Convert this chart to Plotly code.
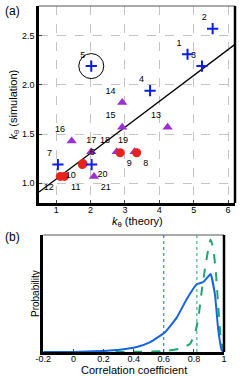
import plotly.graph_objects as go

# ---- panel (a) data ----
blue_ids = ["1", "2", "3", "4", "5", "7", "20"]
blue_x = [4.82, 5.55, 5.24, 3.73, 2.02, 1.05, 2.03]
blue_y = [2.31, 2.57, 2.19, 1.94, 2.19, 1.19, 1.19]
blue_pos = ["top left", "top left", "top left", "top left", "top left", "top left", "bottom right"]

red_ids = ["6", "8", "9", "10", "11", "12"]
red_x = [1.78, 3.34, 2.86, 1.76, 1.24, 1.12]
red_y = [1.20, 1.31, 1.31, 1.19, 1.07, 1.07]
red_pos = ["top right", "bottom right", "bottom right", "bottom left", "bottom right", "bottom left"]

pur_ids = ["13", "14", "15", "16", "17", "18", "19", "21"]
pur_x = [4.24, 2.92, 2.92, 1.45, 2.02, 2.76, 3.28, 2.10]
pur_y = [1.57, 1.82, 1.57, 1.43, 1.32, 1.32, 1.32, 1.07]
pur_pos = ["top left", "top left", "top left", "top left", "top center", "top left", "top left", "bottom right"]

fit_slope = 0.263
fit_intercept = 0.78
xa_range = [0.5, 6.2]
ya_range = [0.8, 2.8]
xa_ticks = [1, 2, 3, 4, 5, 6]
ya_ticks = [1.0, 1.5, 2.0, 2.5]
ya_ticktext = ["1.0", "1.5", "2.0", "2.5"]

# ---- panel (b) data ----
blue_cc = [-0.2, 0.0, 0.18, 0.31, 0.42, 0.51, 0.608, 0.686, 0.752, 0.819, 0.862, 0.896, 0.911, 0.94, 0.962, 0.985, 1.0]
blue_p = [0.0, 0.0, 0.009, 0.02, 0.043, 0.086, 0.173, 0.30, 0.46, 0.59, 0.61, 0.66, 0.68, 0.50, 0.19, 0.015, 0.0]
green_cc = [-0.2, 0.35, 0.62, 0.708, 0.774, 0.807, 0.83, 0.852, 0.874, 0.896, 0.911, 0.929, 0.947, 0.962, 0.98, 1.0]
green_p = [0.0, 0.0, 0.01, 0.03, 0.07, 0.16, 0.30, 0.53, 0.73, 0.90, 0.98, 0.90, 0.68, 0.39, 0.10, 0.0]
blue_vline = 0.6
green_vline = 0.82
xb_ticks = [-0.2, 0, 0.2, 0.4, 0.6, 0.8, 1]
xb_ticktext = ["-0.2", "0", "0.2", "0.4", "0.6", "0.8", "1"]

BLUE = "#0a1ee6"
RED = "#e8231f"
PURPLE = "#9b2fd0"
CBLUE = "#1565e0"
CGREEN = "#1aa870"
FONT = "Liberation Sans"

fig = go.Figure()

fx = xa_range
fy = [fit_slope * v + fit_intercept for v in fx]
fig.add_trace(go.Scatter(x=fx, y=fy, mode="lines", line=dict(color="black", width=1.3),
                         xaxis="x", yaxis="y", showlegend=False, hoverinfo="skip"))

fig.add_trace(go.Scatter(x=pur_x, y=pur_y, mode="markers+text", text=pur_ids, textposition=pur_pos,
                         marker=dict(symbol="triangle-up", size=9, color=PURPLE),
                         textfont=dict(size=9, color="black", family=FONT),
                         xaxis="x", yaxis="y", showlegend=False))
fig.add_trace(go.Scatter(x=red_x, y=red_y, mode="markers+text", text=red_ids, textposition=red_pos,
                         marker=dict(symbol="circle", size=9, color=RED),
                         textfont=dict(size=9, color="black", family=FONT),
                         xaxis="x", yaxis="y", showlegend=False))
fig.add_trace(go.Scatter(x=blue_x, y=blue_y, mode="markers+text", text=blue_ids, textposition=blue_pos,
                         marker=dict(symbol="cross-thin", size=8, line=dict(color=BLUE, width=2)),
                         textfont=dict(size=9, color="black", family=FONT),
                         xaxis="x", yaxis="y", showlegend=False))

fig.add_trace(go.Scatter(x=green_cc, y=green_p, mode="lines", line=dict(color=CGREEN, width=2, dash="dash", shape="spline", smoothing=0.4),
                         xaxis="x2", yaxis="y2", showlegend=False))
fig.add_trace(go.Scatter(x=blue_cc, y=blue_p, mode="lines", line=dict(color=CBLUE, width=2, shape="spline", smoothing=0.4),
                         xaxis="x2", yaxis="y2", showlegend=False))

W, H = 249, 376
xa_dom = [39 / W, 235 / W]
ya_dom = [1 - 203 / H, 1 - 6 / H]
xb_dom = [43.3 / W, 224 / W]
yb_dom = [1 - 352 / H, 1 - 235 / H]

tickfont = dict(size=9, color="black", family=FONT)

shapes = []
i5 = blue_ids.index("5")
rx = 12.5 / (196 / (xa_range[1] - xa_range[0]))
ry = 12.5 / (197 / (ya_range[1] - ya_range[0]))
shapes.append(dict(type="circle", xref="x", yref="y",
                   x0=blue_x[i5] - rx, x1=blue_x[i5] + rx, y0=blue_y[i5] - ry, y1=blue_y[i5] + ry,
                   line=dict(color="black", width=1)))
for xr, yr in [("x domain", "y domain"), ("x2 domain", "y2 domain")]:
    shapes.append(dict(type="line", xref=xr, yref=yr, x0=0, x1=1, y0=1, y1=1, line=dict(color="#555555", width=1)))
    shapes.append(dict(type="line", xref=xr, yref=yr, x0=1, x1=1, y0=0, y1=1, line=dict(color="black", width=2.5)))
shapes.append(dict(type="line", xref="x2", yref="y2 domain", x0=blue_vline, x1=blue_vline, y0=0, y1=1,
                   line=dict(color=CBLUE, width=1, dash="dot")))
shapes.append(dict(type="line", xref="x2", yref="y2 domain", x0=green_vline, x1=green_vline, y0=0, y1=1,
                   line=dict(color=CGREEN, width=1, dash="dot")))

annotations = [
    dict(text="(a)", x=3 / W, y=1 - 2 / H, xref="paper", yref="paper", xanchor="left", yanchor="top",
         showarrow=False, font=dict(size=12, color="black", family=FONT)),
    dict(text="(b)", x=3 / W, y=1 - 228 / H, xref="paper", yref="paper", xanchor="left", yanchor="top",
         showarrow=False, font=dict(size=12, color="black", family=FONT)),
    dict(text="<i>k</i><sub>θ</sub> (theory)", x=(xa_dom[0] + xa_dom[1]) / 2, y=1 - 213 / H, xref="paper", yref="paper",
         xanchor="center", yanchor="top", showarrow=False, font=dict(size=11, color="black", family=FONT)),
    dict(text="<i>k</i><sub>θ</sub> (simulation)", x=4 / W, y=(ya_dom[0] + ya_dom[1]) / 2, xref="paper", yref="paper",
         xanchor="left", yanchor="middle", textangle=-90, showarrow=False, font=dict(size=11, color="black", family=FONT)),
    dict(text="Correlation coefficient", x=(xb_dom[0] + xb_dom[1]) / 2, y=1 - 362 / H, xref="paper", yref="paper",
         xanchor="center", yanchor="top", showarrow=False, font=dict(size=11, color="black", family=FONT)),
    dict(text="Probability", x=28 / W, y=(yb_dom[0] + yb_dom[1]) / 2, xref="paper", yref="paper",
         xanchor="left", yanchor="middle", textangle=-90, showarrow=False, font=dict(size=10, color="black", family=FONT)),
]

fig.update_layout(
    width=W, height=H, margin=dict(l=0, r=0, t=0, b=0, autoexpand=False),
    paper_bgcolor="white", plot_bgcolor="white",
    font=dict(family=FONT, color="black"),
    xaxis=dict(domain=xa_dom, range=xa_range, tickvals=xa_ticks, tickfont=tickfont, automargin=False,
               showgrid=True, gridcolor="#c4c4c4", griddash="dash", gridwidth=0.8, ticklabelstandoff=-4,
               showline=True, linecolor="black", linewidth=2.5, ticks="inside", ticklen=3,
               zeroline=False, anchor="y"),
    yaxis=dict(domain=ya_dom, range=ya_range, tickvals=ya_ticks, ticktext=ya_ticktext, tickfont=tickfont, automargin=False,
               showgrid=True, gridcolor="#c4c4c4", griddash="dash", gridwidth=0.8,
               showline=True, linecolor="black", linewidth=2.5, ticks="inside", ticklen=3,
               zeroline=False, anchor="x"),
    xaxis2=dict(domain=xb_dom, range=[-0.2, 1.0], tickvals=xb_ticks, ticktext=xb_ticktext, tickfont=tickfont, automargin=False,
                showgrid=False, showline=True, linecolor="black", linewidth=2.5, ticks="inside", ticklen=3,
                ticklabelstandoff=-4, zeroline=False, anchor="y2"),
    yaxis2=dict(domain=yb_dom, range=[0, 1.02], showticklabels=False, showgrid=False, automargin=False,
                showline=True, linecolor="black", linewidth=2.5, ticks="", zeroline=False, anchor="x2"),
    shapes=shapes, annotations=annotations,
)

fig.write_html("out.html", config={"displayModeBar": False},
               post_script="document.body.style.margin='0';document.body.style.padding='0';")
